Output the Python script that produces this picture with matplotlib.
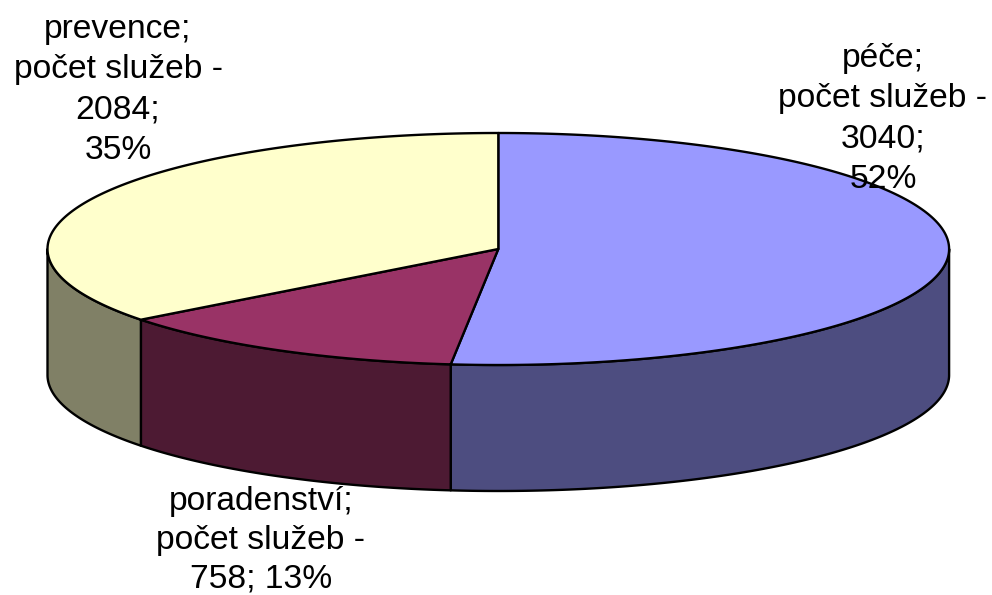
import numpy as np
import matplotlib
matplotlib.use("Agg")
import matplotlib.pyplot as plt
from matplotlib.patches import Polygon

plt.rcParams['font.family'] = ['Liberation Sans', 'DejaVu Sans']

categories = ["péče", "poradenství", "prevence"]
values = [3040, 758, 2084]
percent_labels = ["52%", "13%", "35%"]
top_colors = ["#9999FF", "#993366", "#FFFFCC"]
side_colors = ["#4D4D80", "#4D1A33", "#808066"]

W, H = 992, 595
fig = plt.figure(figsize=(W / 100, H / 100), dpi=100)
ax = fig.add_axes([0, 0, 1, 1])
ax.set_xlim(0, W)
ax.set_ylim(H, 0)
ax.axis('off')

cx, cy, rx, ry, depth = 498.3, 249, 450.8, 116, 126

def pt(theta_deg, dy=0.0):
    t = np.radians(theta_deg)
    return cx + rx * np.sin(t), cy - ry * np.cos(t) + dy

total = sum(values)
bounds = [0.0]
for v in values:
    bounds.append(bounds[-1] + 360.0 * v / total)

# sides
for i in range(len(values)):
    a, b = bounds[i], bounds[i + 1]
    lo, hi = max(a, 90), min(b, 270)
    if hi <= lo:
        continue
    th = np.linspace(lo, hi, 200)
    top = [pt(t) for t in th]
    bot = [pt(t, depth) for t in th[::-1]]
    ax.add_patch(Polygon(top + bot, closed=True, facecolor=side_colors[i],
                         edgecolor='black', lw=1.7, joinstyle='round'))

# tops
for i in range(len(values)):
    a, b = bounds[i], bounds[i + 1]
    th = np.linspace(a, b, 300)
    pts = [(cx, cy)] + [pt(t) for t in th]
    ax.add_patch(Polygon(pts, closed=True, facecolor=top_colors[i],
                         edgecolor='black', lw=1.7, joinstyle='round'))

fs = 24.2
ls = 1.38
ax.text(883, 119, f"{categories[0]};\npočet služeb -\n{values[0]};\n{percent_labels[0]}",
        ha='center', va='center', fontsize=fs, linespacing=ls, color='black')
ax.text(261, 540, f"{categories[1]};\npočet služeb -\n{values[1]}; {percent_labels[1]}",
        ha='center', va='center', fontsize=fs, linespacing=1.33, color='black')
ax.text(118, 90, f"{categories[2]};\npočet služeb -\n{values[2]};\n{percent_labels[2]}",
        ha='center', va='center', fontsize=fs, linespacing=ls, color='black')

fig.savefig("out.png", dpi=100, facecolor='white')
